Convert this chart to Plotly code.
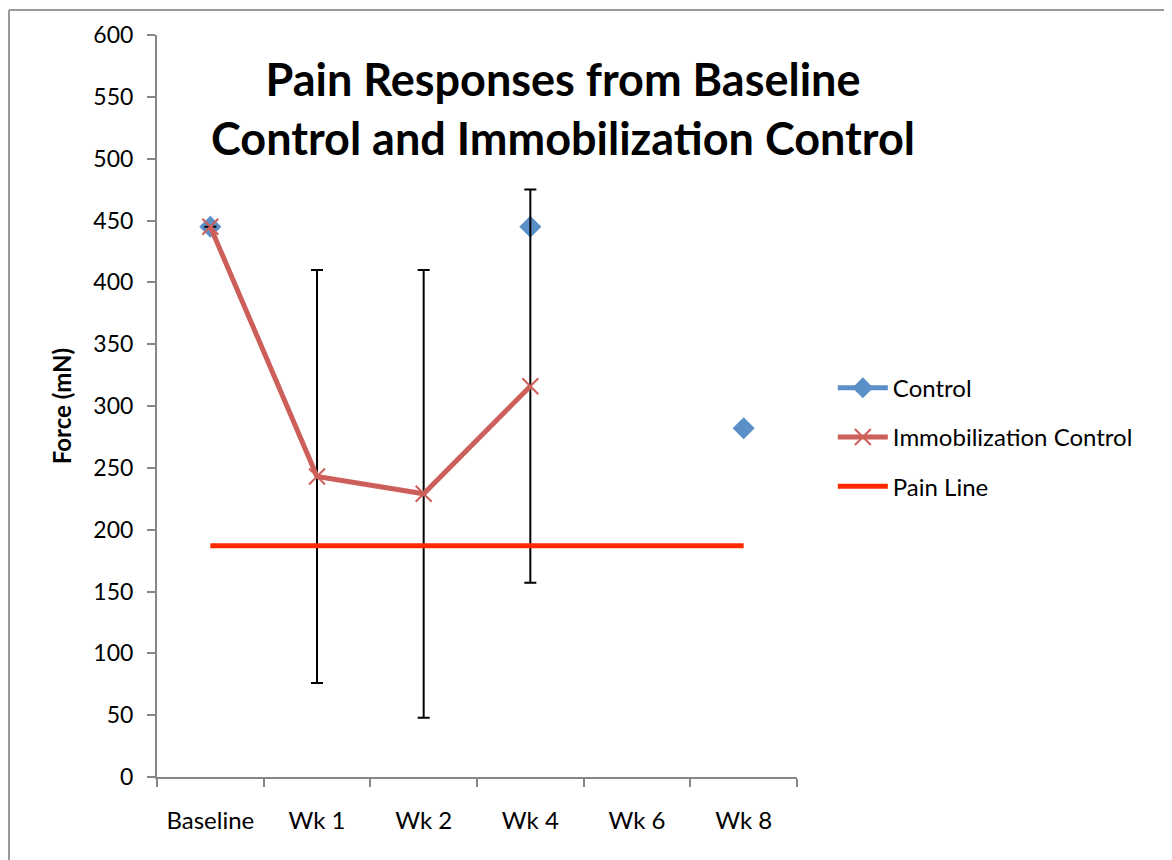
import plotly.graph_objects as go

categories = ["Baseline", "Wk 1", "Wk 2", "Wk 4", "Wk 6", "Wk 8"]
control = [445, None, None, 445, None, 282]
immob = [445, 243, 229, 316, None, None]
immob_err = [0, 167, 181, 159, None, None]
pain_line = [187, 187, 187, 187, 187, 187]
yticks = [0, 50, 100, 150, 200, 250, 300, 350, 400, 450, 500, 550, 600]

CAL = "Lato, 'Open Sans', sans-serif"

fig = go.Figure()
fig.add_trace(go.Scatter(
    x=categories, y=control, name="Control", mode="lines+markers",
    connectgaps=False, legendgroup="a",
    line=dict(color="#5B8FC7", width=5),
    marker=dict(symbol="diamond", size=17, color="#5B8FC7"),
))
fig.add_trace(go.Scatter(
    x=categories, y=immob, name="Immobilization Control", mode="lines+markers",
    legendgroup="b",
    line=dict(color="#CD5F5A", width=5),
    marker=dict(symbol="x-thin", size=16, color="#CD5F5A",
                line=dict(color="#CD5F5A", width=2)),
    error_y=dict(type="data", array=immob_err, visible=True,
                 color="black", thickness=2, width=6),
))
fig.add_trace(go.Scatter(
    x=categories, y=pain_line, name="Pain Line", mode="lines",
    legendgroup="c",
    line=dict(color="#FF2A00", width=5),
))


def px_x(p):
    return (p - 157) / 640


def px_y(p):
    return (777 - p) / 742


frame = dict(line=dict(color="#999999", width=2), xref="paper", yref="paper",
             type="line", layer="below")

# page offset of 8px: plot area at page x 157-797, y 35-777
fig.update_layout(
    width=1172, height=860,
    margin=dict(l=149, r=383, t=27, b=91),
    paper_bgcolor="white", plot_bgcolor="white",
    showlegend=True,
    legend=dict(x=1.056, y=0.458, xanchor="left", yanchor="middle",
                font=dict(family=CAL, size=24, color="black"),
                tracegroupgap=15, itemwidth=50,
                bgcolor="rgba(0,0,0,0)"),
    xaxis=dict(
        type="category", categoryorder="array", categoryarray=categories,
        range=[-0.5, 5.5],
        showline=True, linecolor="#868686", linewidth=2,
        ticks="outside", tickson="boundaries", ticklen=8, tickcolor="#868686",
        tickwidth=2, showgrid=False, zeroline=False,
        tickfont=dict(family=CAL, size=24, color="black"),
        ticklabelstandoff=21,
    ),
    yaxis=dict(
        range=[0, 600], tickvals=yticks,
        showline=True, linecolor="#868686", linewidth=2,
        ticks="outside", ticklen=8, tickcolor="#868686", tickwidth=2,
        showgrid=False, zeroline=False,
        tickfont=dict(family=CAL, size=23, color="black"),
        ticklabelstandoff=9,
        title=dict(text="<b>Force (mN)</b>",
                   font=dict(family=CAL, size=24, color="black"),
                   standoff=15),
    ),
    annotations=[dict(
        text="<b>Pain Responses from Baseline<br>Control and Immobilization Control</b>",
        xref="paper", yref="paper", x=0.635, y=0.901,
        xanchor="center", yanchor="middle", showarrow=False,
        font=dict(family=CAL, size=45, color="black"),
        align="center",
    )],
    shapes=[
        dict(x0=px_x(9), x1=px_x(9), y0=px_y(10), y1=px_y(868), **frame),
        dict(x0=px_x(9), x1=px_x(1166), y0=px_y(10), y1=px_y(10), **frame),
        dict(x0=px_x(1166), x1=px_x(1166), y0=px_y(10), y1=px_y(868), **frame),
    ],
)

fig.write_html("out.html")
